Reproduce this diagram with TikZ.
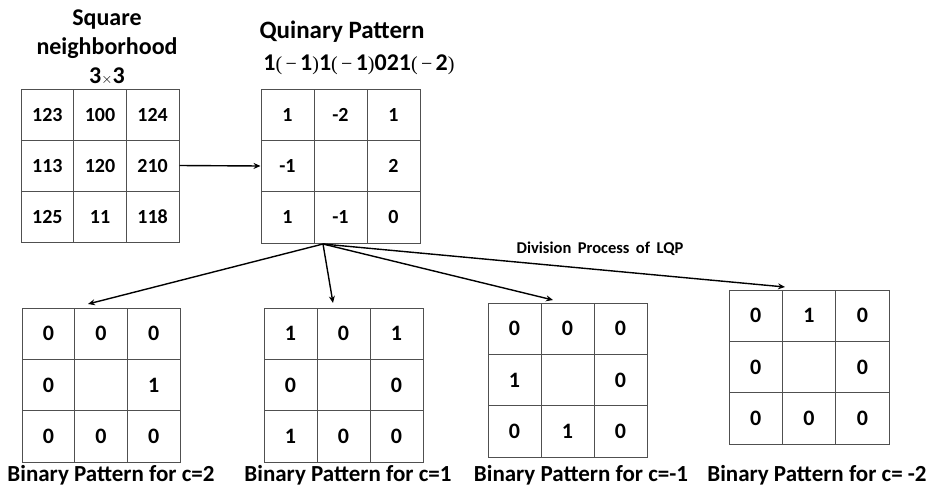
\documentclass[tikz,border=0pt]{standalone}
\usepackage{fontspec}
\setmainfont{Carlito}
\newfontfamily\tnr{Liberation Serif}
\usetikzlibrary{arrows.meta,fit}
\definecolor{gridgray}{HTML}{505050}
\tikzset{
  gridbox/.style={draw=gridgray, line width=1pt, inner sep=0pt},
  gridline/.style={draw=gridgray, line width=1pt},
  cellnum/.style={font=\bfseries\fontsize{20}{20}\selectfont, inner sep=0pt, text height=13pt, text depth=0pt},
  bigcellnum/.style={cellnum, font=\bfseries\fontsize{22}{22}\selectfont, text height=14pt},
  titletext/.style={font=\bfseries\fontsize{24}{29}\selectfont, align=center, inner sep=0pt},
  caption/.style={font=\bfseries\fontsize{23}{23}\selectfont, inner sep=0pt},
  smalllabel/.style={font=\bfseries\fontsize{16.5}{16.5}\selectfont, inner sep=0pt},
  arrowline/.style={draw=black, line width=1.4pt, -{Stealth[length=7pt,width=6pt]}},
}
\newcommand{\mkgrid}[7]{%
  \node[gridbox, fit={(#2,#3) (#4,#5)}] (#1) {};
  \pgfmathsetmacro\gw{(#4-#2)/3}
  \pgfmathsetmacro\gh{(#5-#3)/3}
  \draw[gridline] ({#2+\gw},#3) -- ({#2+\gw},#5);
  \draw[gridline] ({#2+2*\gw},#3) -- ({#2+2*\gw},#5);
  \draw[gridline] (#2,{#3+\gh}) -- (#4,{#3+\gh});
  \draw[gridline] (#2,{#3+2*\gh}) -- (#4,{#3+2*\gh});
  \foreach \v [count=\i from 0] in {#6} {
    \pgfmathtruncatemacro\rr{\i/3}
    \pgfmathtruncatemacro\cc{\i-3*\rr}
    \node[#7] (#1-\i) at ({#2+(\cc+0.5)*\gw},{#3+(\rr+0.5)*\gh}) {\v};
  }
}
\begin{document}
\begin{tikzpicture}[x=1pt,y=-1pt]
\useasboundingbox[fill=white] (0,0) rectangle (937,493);

% titles
\node[titletext] (sqtitle) at (107,47) {Square\\neighborhood\\3{\tnr\fontsize{15}{15}\selectfont\mdseries$\times$}3};
\node[titletext, font=\bfseries\fontsize{25}{25}\selectfont] (qtitle) at (342,32) {Quinary Pattern};
\newcommand{\pl}{{\tnr\fontsize{20}{20}\selectfont\mdseries(\,−\,}}
\newcommand{\pr}{{\tnr\fontsize{20}{20}\selectfont\mdseries)}}
\node[titletext] (formula) at (359,65) {1\pl 1\pr 1\pl 1\pr 021\pl 2\pr};

% grids
\mkgrid{gsq}{21}{89}{179}{242}{123,100,124,113,120,210,125,11,118}{cellnum}
\mkgrid{gq}{261}{89}{420}{243}{1,-2,1,-1,{},2,1,-1,0}{cellnum}
\mkgrid{gb1}{22}{308}{180}{462}{0,0,0,0,{},1,0,0,0}{bigcellnum}
\mkgrid{gb2}{264}{308}{423}{462}{1,0,1,0,{},0,1,0,0}{bigcellnum}
\mkgrid{gb3}{488}{303}{647}{457}{0,0,0,1,{},0,0,1,0}{bigcellnum}
\mkgrid{gb4}{729}{290}{889}{444}{0,1,0,0,{},0,0,0,0}{bigcellnum}

% arrows
\draw[arrowline] (gsq.east) -- (gq.west);
\coordinate (src) at (323,244);
\coordinate (t1) at (88,304);
\coordinate (t2) at (333,303);
\coordinate (t3) at (553,300);
\coordinate (t4) at (785,287);
\draw[arrowline] (src) -- (t1);
\draw[arrowline] (src) -- (t2);
\draw[arrowline] (src) -- (t3);
\draw[arrowline] (src) -- (t4);

\node[smalllabel] (div) at (600,249) {Division\, Process\, of\, LQP};

% captions
\node[caption] (c1) at (111,475) {Binary Pattern for c=2};
\node[caption] (c2) at (348,475) {Binary Pattern for c=1};
\node[caption] (c3) at (581,475) {Binary Pattern for c=-1};
\node[caption] (c4) at (817,475) {Binary Pattern for c= -2};
\end{tikzpicture}
\end{document}
